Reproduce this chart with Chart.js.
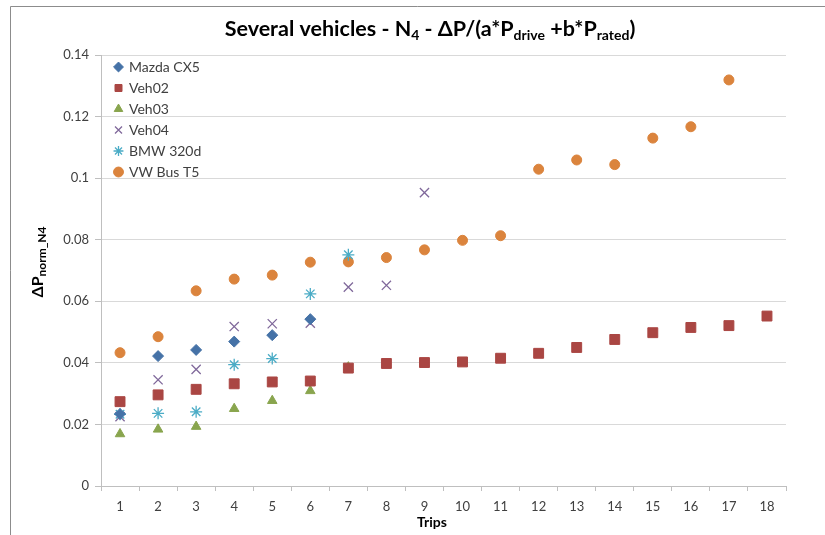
<!DOCTYPE html>
<html lang="en">
<head>
<meta charset="UTF-8">
<script src="https://cdn.jsdelivr.net/npm/chart.js"></script>
<title>Several vehicles - N4</title>
<style>
  html, body { margin: 0; padding: 0; background: #fff; }
  #wrap { width: 825px; height: 535px; }
</style>
</head>
<body>
<div id="wrap"><canvas id="dpChart" width="825" height="535"></canvas></div>
<script>
// trip numbers on the x axis
const trips = ['1', '2', '3', '4', '5', '6', '7', '8', '9', '10', '11', '12', '13', '14', '15', '16', '17', '18'];

// normalised power difference per trip, one array per vehicle
const mazdaCx5 = [0.0234, 0.0422, 0.0442, 0.0469, 0.0490, 0.0542];
const veh02 = [0.0274, 0.0296, 0.0314, 0.0332, 0.0338, 0.0341, 0.0383, 0.0398, 0.0401,
               0.0403, 0.0415, 0.0431, 0.0450, 0.0476, 0.0498, 0.0515, 0.0521, 0.0552];
const veh03 = [0.0169, 0.0184, 0.0193, 0.0251, 0.0277, 0.0309, 0.0386];
const veh04 = [0.0225, 0.0345, 0.0379, 0.0518, 0.0527, 0.0529, 0.0646, 0.0652, 0.0953];
const bmw320d = [0.0233, 0.0236, 0.0241, 0.0394, 0.0414, 0.0624, 0.0751];
const vwBusT5 = [0.0433, 0.0485, 0.0634, 0.0672, 0.0685, 0.0727, 0.0728, 0.0742, 0.0767,
                 0.0798, 0.0813, 0.1029, 0.1059, 0.1044, 0.1130, 0.1167, 0.1319];

// y axis range
const yMin = 0;
const yMax = 0.14;
const yStep = 0.02;

const FONT = "Lato, 'DejaVu Sans', sans-serif";
const TEXT = '#404040';

function series(label, data, style, color, radius, border) {
  return {
    label: label,
    data: data,
    showLine: false,
    pointStyle: style,
    pointRadius: radius,
    pointHoverRadius: radius,
    backgroundColor: color,
    borderColor: color,
    pointBorderWidth: border,
    borderWidth: border
  };
}

// text with subscript runs, centred on (x, y)
function drawRich(ctx, parts, x, y, size, subSize, subDrop) {
  let total = 0;
  parts.forEach(([t, sub]) => {
    ctx.font = `bold ${sub ? subSize : size}px ${FONT}`;
    total += ctx.measureText(t).width;
  });
  let cx = x - total / 2;
  ctx.textAlign = 'left';
  ctx.textBaseline = 'alphabetic';
  parts.forEach(([t, sub]) => {
    ctx.font = `bold ${sub ? subSize : size}px ${FONT}`;
    ctx.fillText(t, cx, sub ? y + subDrop : y);
    cx += ctx.measureText(t).width;
  });
}

const decorations = {
  id: 'decorations',
  afterLayout(chart) {
    // keep the legend inside the plot, top-left
    const lg = chart.legend;
    const h = lg.height;
    lg.top = chart.chartArea.top - 2;
    lg.bottom = lg.top + h;
    lg.left = chart.chartArea.left + 7;
  },
  beforeDraw(chart) {
    const ctx = chart.ctx;
    ctx.save();
    ctx.fillStyle = '#ffffff';
    ctx.fillRect(0, 0, chart.width, chart.height);
    // outer frame, cut off on the right and bottom
    ctx.strokeStyle = '#8c8c8c';
    ctx.lineWidth = 1;
    ctx.beginPath();
    ctx.moveTo(10.5, chart.height);
    ctx.lineTo(10.5, 6.5);
    ctx.lineTo(chart.width, 6.5);
    ctx.stroke();
    ctx.restore();
  },
  afterDraw(chart) {
    const ctx = chart.ctx;
    ctx.save();
    ctx.fillStyle = '#000000';
    drawRich(ctx, [
      ['Several vehicles - N', false], ['4', true], [' - \u0394P/(a*P', false],
      ['drive', true], [' +b*P', false], ['rated', true], [')', false]
    ], 430, 36, 21.5, 14, 4);
    // x axis title
    ctx.font = `bold 14px ${FONT}`;
    ctx.textAlign = 'center';
    ctx.textBaseline = 'alphabetic';
    ctx.fillText('Trips', 432, 527);
    // y axis title
    ctx.translate(38, 262);
    ctx.rotate(-Math.PI / 2);
    drawRich(ctx, [['\u0394P', false], ['norm_N4', true]], 0, 5, 16, 12, 3);
    ctx.restore();
  }
};

new Chart(document.getElementById('dpChart'), {
  type: 'line',
  data: {
    labels: trips,
    datasets: [
      series('Mazda CX5', mazdaCx5, 'rectRot', '#4572A7', 5.5, 1),
      series('Veh02', veh02, 'rect', '#AA4643', 7, 1),
      series('Veh03', veh03, 'triangle', '#89A54E', 5.5, 1),
      series('Veh04', veh04, 'crossRot', '#80699B', 6.5, 1.3),
      series('BMW 320d', bmw320d, 'star', '#4BACC6', 6, 1.3),
      series('VW Bus T5', vwBusT5, 'circle', '#DB843D', 5, 1)
    ]
  },
  options: {
    responsive: false,
    animation: false,
    layout: { padding: { left: 0, right: 39, top: 55, bottom: 0 } },
    font: { family: FONT },
    scales: {
      x: {
        type: 'category',
        offset: true,
        afterFit: (s) => { s.height = 49; },
        grid: {
          offset: true,
          drawOnChartArea: false,
          drawTicks: true,
          tickLength: 5,
          color: '#bfbfbf'
        },
        border: { display: true, color: '#bfbfbf' },
        ticks: { color: TEXT, font: { family: FONT, size: 13 }, padding: 8, maxRotation: 0 }
      },
      y: {
        min: yMin,
        max: yMax,
        afterFit: (s) => { s.width = 101; },
        grid: { color: '#d9d9d9', lineWidth: 1, tickLength: 6, tickColor: '#bfbfbf' },
        border: { display: true, color: '#bfbfbf' },
        ticks: {
          stepSize: yStep,
          color: TEXT,
          padding: 6,
          font: { family: FONT, size: 13 },
          callback: (v) => String(parseFloat(Number(v).toFixed(2)))
        }
      }
    },
    plugins: {
      title: { display: false },
      tooltip: { enabled: false },
      legend: {
        position: 'chartArea',
        align: 'start',
        labels: {
          usePointStyle: true,
          boxWidth: 7,
          boxHeight: 7,
          padding: 7,
          color: TEXT,
          font: { family: FONT, size: 14 }
        }
      }
    }
  },
  plugins: [decorations]
});
</script>
</body>
</html>
